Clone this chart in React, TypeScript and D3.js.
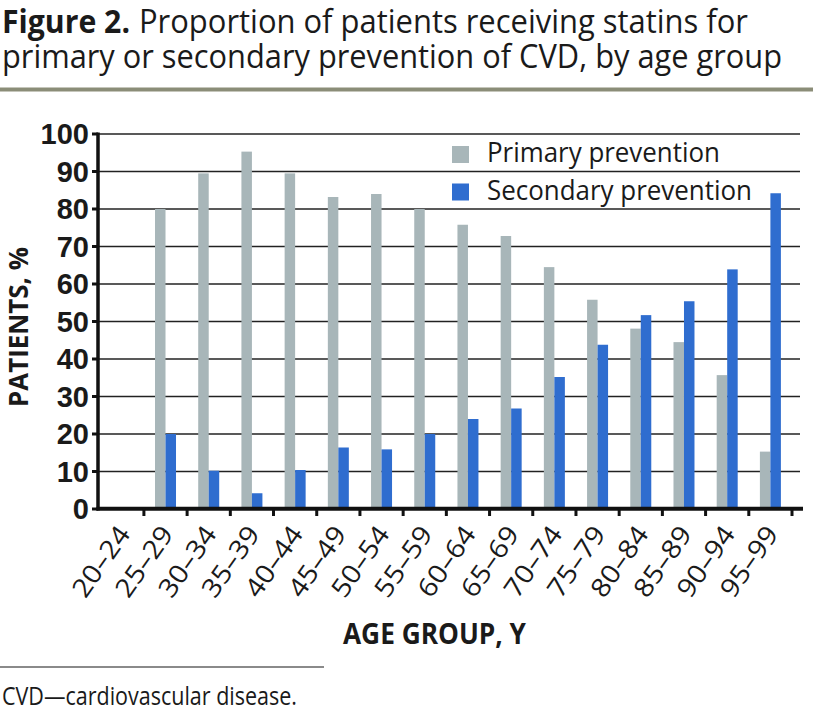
import React from "react";
import * as d3 from "d3";

const categories = ["20–24","25–29","30–34","35–39","40–44","45–49","50–54","55–59","60–64","65–69","70–74","75–79","80–84","85–89","90–94","95–99"];
const primary = [0, 80, 89.5, 95.3, 89.5, 83.2, 84, 80, 75.8, 72.8, 64.5, 55.8, 48.1, 44.5, 35.7, 15.3];
const secondary = [0, 20, 10.2, 4.2, 10.4, 16.4, 15.9, 20, 24, 26.8, 35.2, 43.8, 51.7, 55.4, 63.9, 84.2];
const seriesNames = ["Primary prevention", "Secondary prevention"];
const seriesColors = ["#a8b6b9", "#2f6dcf"];
const yTicks = [0, 10, 20, 30, 40, 50, 60, 70, 80, 90, 100];

const W = 825, H = 717;
const HUM = "'Open Sans', 'Noto Sans', sans-serif";

export default function App() {
  const x = d3.scaleBand<string>().domain(categories).range([100.7, 792]).paddingInner(0).paddingOuter(0);
  const x1 = d3.scaleBand<string>().domain(seriesNames).range([0, 21]);
  const y = d3.scaleLinear().domain([0, 100]).range([509, 134]);
  const step = x.step();
  const boundaries = categories.map((c) => x(c)!).concat([x(categories[categories.length - 1])! + step]);
  const data = [primary, secondary];

  return (
    <svg width={W} height={H} style={{ position: "absolute", left: 0, top: 0, background: "#fff" }}>
      {/* Title */}
      <text x={2} y={33} fontFamily={HUM} fontSize={32} fontWeight="bold" fill="#1a1a1a" textLength={128} lengthAdjust="spacingAndGlyphs">
        Figure 2.
      </text>
      <text x={139} y={33} fontFamily={HUM} fontSize={32} fill="#1a1a1a" textLength={609} lengthAdjust="spacingAndGlyphs">
        Proportion of patients receiving statins for
      </text>
      <text x={2} y={68} fontFamily={HUM} fontSize={32} fill="#1a1a1a" textLength={780} lengthAdjust="spacingAndGlyphs">
        primary or secondary prevention of CVD, by age group
      </text>
      <rect x={0} y={87.5} width={813} height={4} fill="#8b8d78" />

      {/* Gridlines */}
      {yTicks.filter((t) => t > 0).map((t) => (
        <line key={"g" + t} x1={98} x2={800} y1={y(t)} y2={y(t)} stroke="#222" strokeWidth={1.3} />
      ))}

      {/* Bars */}
      {data.map((vals, si) =>
        vals.map((v, i) => (
          v > 0 ? (
            <rect
              key={si + "-" + i}
              x={x(categories[i])! + step / 2 - 10.5 + x1(seriesNames[si])!}
              y={y(v)}
              width={x1.bandwidth()}
              height={y(0) - y(v)}
              fill={seriesColors[si]}
            />
          ) : null
        ))
      )}

      {/* Y axis */}
      <line x1={98} x2={98} y1={132.5} y2={510.5} stroke="#111" strokeWidth={3.5} />
      {yTicks.map((t) => (
        <g key={"yt" + t}>
          <line x1={92} x2={98} y1={y(t)} y2={y(t)} stroke="#111" strokeWidth={3} />
          <text x={89} y={y(t)} dy="0.36em" textAnchor="end" fontFamily="'Liberation Sans', Arial, sans-serif" fontWeight="bold" fontSize={29} fill="#1a1a1a">
            {t}
          </text>
        </g>
      ))}
      <text
        transform={`translate(28, 327) rotate(-90)`}
        textAnchor="middle"
        fontFamily={HUM}
        fontWeight="bold"
        fontSize={26}
        fill="#1a1a1a"
        textLength={160}
        lengthAdjust="spacingAndGlyphs"
      >
        PATIENTS, %
      </text>

      {/* X axis */}
      <line x1={96.5} x2={803} y1={508.7} y2={508.7} stroke="#111" strokeWidth={4} />
      {boundaries.slice(1).map((b, i) => (
        <line key={"xt" + i} x1={b} x2={b} y1={508} y2={516} stroke="#111" strokeWidth={3} />
      ))}
      {categories.map((c) => (
        <text
          key={"xl" + c}
          transform={`translate(${x(c)! + step / 2 + 9}, 534) rotate(-55)`}
          textAnchor="end"
          fontFamily={HUM}
          fontSize={26}
          fill="#1a1a1a"
          textLength={80}
          lengthAdjust="spacingAndGlyphs"
        >
          {c}
        </text>
      ))}
      <text x={343} y={644} fontFamily={HUM} fontWeight="bold" fontSize={28} fill="#1a1a1a" textLength={183} lengthAdjust="spacingAndGlyphs">
        AGE GROUP, Y
      </text>

      {/* Legend */}
      {seriesNames.map((s, i) => (
        <g key={"lg" + s}>
          <rect x={452} y={146 + i * 37.5} width={17} height={17} fill={seriesColors[i]} />
          <text x={487} y={162 + i * 37.5} fontFamily={HUM} fontSize={28} fill="#1a1a1a" textLength={i === 0 ? 233 : 265} lengthAdjust="spacingAndGlyphs">
            {s}
          </text>
        </g>
      ))}

      {/* Footer */}
      <line x1={0} x2={324} y1={667} y2={667} stroke="#8a8a8a" strokeWidth={2} />
      <text x={2} y={705} fontFamily={HUM} fontSize={25} fill="#1a1a1a" textLength={295} lengthAdjust="spacingAndGlyphs">
        CVD—cardiovascular disease.
      </text>
    </svg>
  );
}
